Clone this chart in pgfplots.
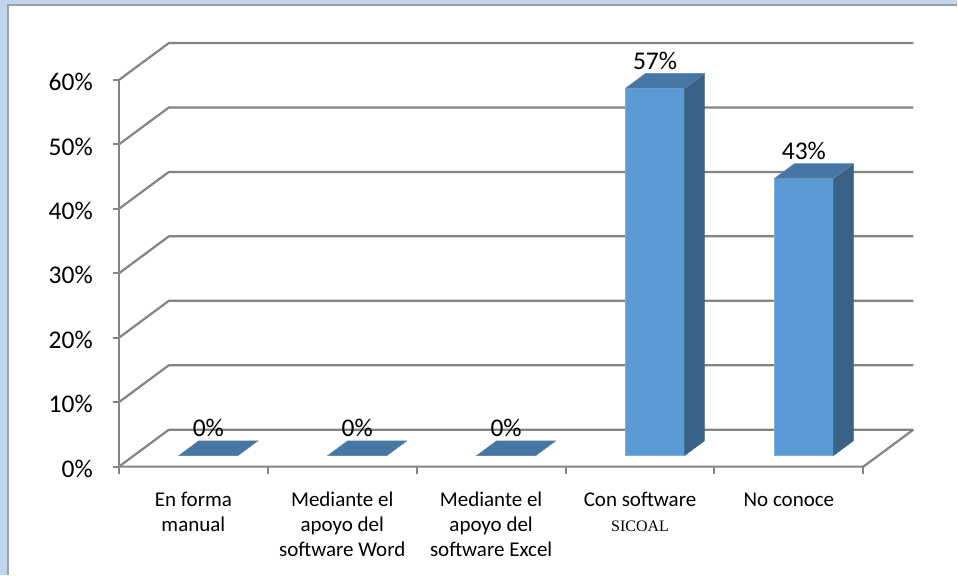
\documentclass[border=0pt]{standalone}
\usepackage{pgfplots}
\pgfplotsset{compat=1.18}
\usepackage{pgfplotstable}
\usepackage{fontspec}
\setmainfont{Carlito}
\newfontfamily\timesfont{Liberation Serif}

\definecolor{framefill}{RGB}{190,214,238}
\definecolor{framegray}{RGB}{160,160,160}
\definecolor{gridgray}{RGB}{132,132,132}
\definecolor{barfront}{RGB}{91,155,213}
\definecolor{barside}{RGB}{58,98,134}
\definecolor{bartop}{RGB}{70,118,164}

% survey results (percent)
\pgfplotstableread{
idx val
0 0
1 0
2 0
3 57
4 43
}\datatable

% depth offsets of the 3-D frame (axis units)
\def\wx{0.3356}   % back wall, x
\def\wy{5.737}    % back wall, y
\def\fx{0.1007}   % bar front, x
\def\fy{1.721}    % bar front, y
\def\dx{0.1342}   % bar depth, x
\def\dy{2.295}    % bar depth, y
\def\hw{0.198}    % half bar width

\begin{document}
\begin{tikzpicture}[x=1pt,y=1pt]
% frame
\fill[framefill] (0,0) rectangle (958,-575);
\fill[white] (8,-5) rectangle (958,-575);
\draw[framegray, line width=1.5pt] (8,-575) -- (8,-5) -- (958,-5);

\begin{axis}[
  at={(119pt,-467pt)}, anchor=south west,
  scale only axis, width=796pt, height=425pt,
  xmin=0, xmax=5.342, ymin=0, ymax=65.9,
  clip=false,
  axis line style={draw=none},
  no markers,
  ytick={0,10,...,60},
  yticklabels={0\%,10\%,20\%,30\%,40\%,50\%,60\%},
  ytick pos=left,
  y tick style={gridgray, line width=2pt},
  tick align=outside,
  major tick length=6pt,
  yticklabel style={font=\fontsize{25.5}{30}\selectfont, anchor=east, inner sep=0pt, xshift=-20pt, yshift=-2pt},
  xtick={0.5,1.5,...,4.5},
  xticklabels={
    {\strut En forma\\manual},
    {\strut Mediante el\\apoyo del\\software Word},
    {\strut Mediante el\\apoyo del\\software Excel},
    {\strut Con software\\{\timesfont\fontsize{16}{16}\selectfont SICOAL}},
    {\strut No conoce}},
  xtick pos=left,
  major x tick style={draw=none},
  xticklabel style={font=\fontsize{21}{25}\selectfont, align=center, anchor=north, inner sep=0pt, yshift=-16pt},
  extra x ticks={0,1,2,3,4,5},
  extra x tick labels={},
  extra x tick style={major x tick style={draw=gridgray, line width=2pt}, major tick length=7pt},
]
% front axis, floor and back-wall gridlines
\draw[gridgray, line width=2.2pt] (axis cs:0,0) -- (axis cs:0,60);
\draw[gridgray, line width=2.2pt] (axis cs:0,0) -- (axis cs:5,0) -- (axis cs:5+\wx,\wy);
\pgfplotsinvokeforeach{0,10,...,60}{
  \draw[gridgray, line width=2.2pt] (axis cs:0,#1) -- (axis cs:\wx,#1+\wy) -- (axis cs:5+\wx,#1+\wy);
}

% 3-D bars
\pgfplotsinvokeforeach{0,...,4}{
  \pgfplotstablegetelem{#1}{val}\of\datatable
  \edef\v{\pgfplotsretval}
  \pgfmathsetmacro\xl{#1+0.5+\fx-\hw}
  \pgfmathsetmacro\xr{#1+0.5+\fx+\hw}
  \pgfmathsetmacro\xc{#1+0.5+\fx}
  \pgfmathsetmacro\yb{\fy}
  \pgfmathsetmacro\yt{\fy+\v}
  \pgfmathsetmacro\xlb{\xl+\dx}
  \pgfmathsetmacro\xrb{\xr+\dx}
  \pgfmathsetmacro\ybb{\yb+\dy}
  \pgfmathsetmacro\ytb{\yt+\dy}
  \edef\bars{%
    \noexpand\addplot[fill=barfront, draw=barfront!80!white, line width=0.5pt]
      coordinates {(\xl,\yb) (\xr,\yb) (\xr,\yt) (\xl,\yt)} -- cycle;
    \noexpand\addplot[fill=barside, draw=barside, line width=0.5pt]
      coordinates {(\xr,\yb) (\xrb,\ybb) (\xrb,\ytb) (\xr,\yt)} -- cycle;
    \noexpand\addplot[fill=bartop, draw=bartop!85!white, line width=0.5pt]
      coordinates {(\xl,\yt) (\xr,\yt) (\xrb,\ytb) (\xlb,\ytb)} -- cycle;
    \noexpand\node[anchor=base, inner sep=0pt, yshift=4pt, font=\noexpand\fontsize{25.5}{30}\noexpand\selectfont]
      at (axis cs:\xc,\ytb) {\v\noexpand\%};
  }
  \bars
}
\end{axis}
\end{tikzpicture}
\end{document}
